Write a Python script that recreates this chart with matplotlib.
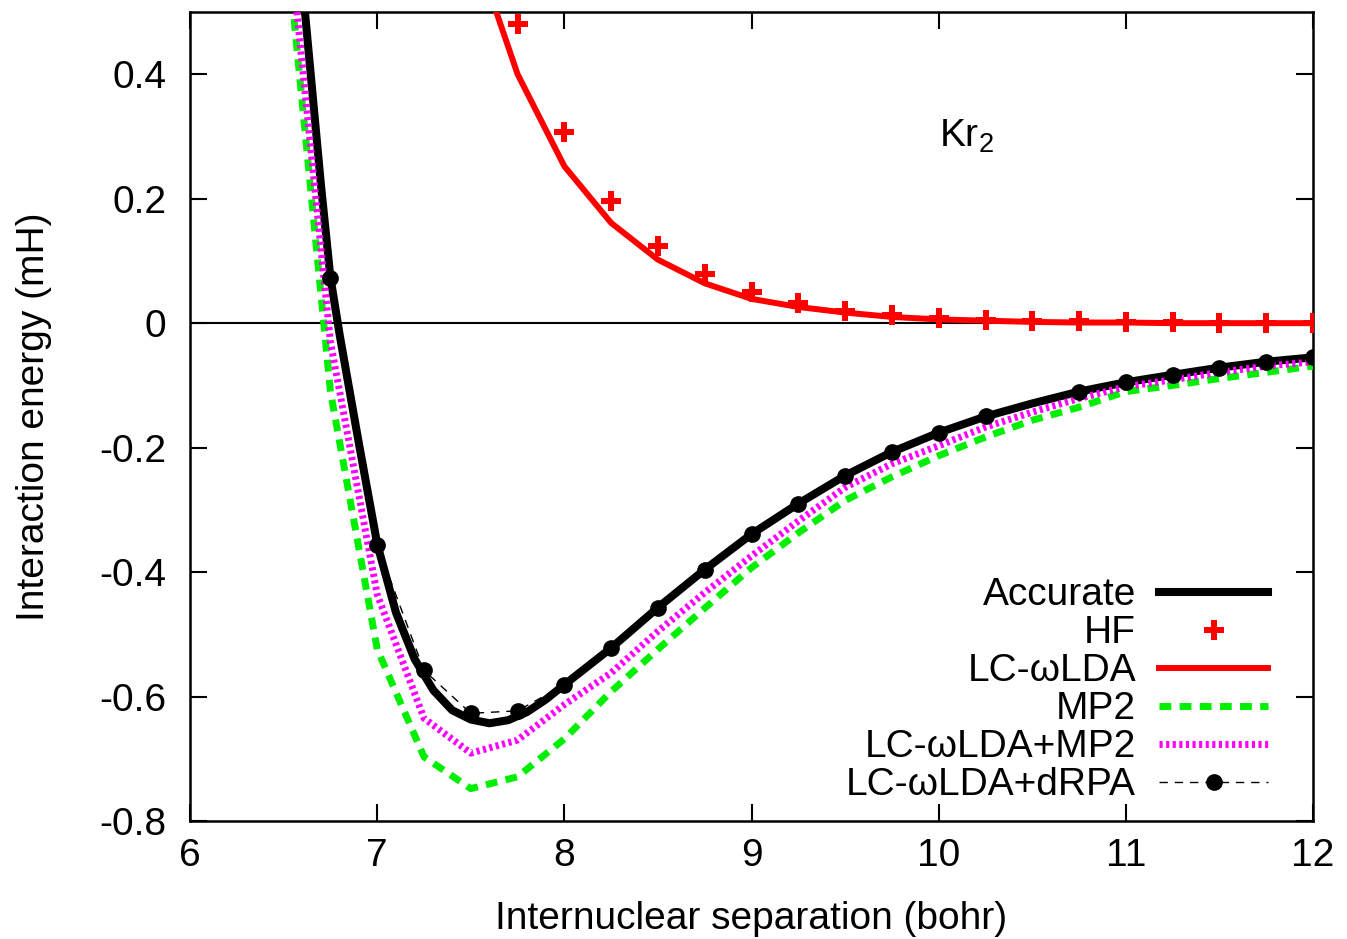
import matplotlib
matplotlib.use("Agg")
import matplotlib.pyplot as plt

plt.rcParams['font.family'] = ['Liberation Sans', 'DejaVu Sans']
plt.rcParams['font.size'] = 28

# Data (bohr, mH)
acc_x = [6.5, 6.6, 6.7, 6.75, 6.8, 6.9, 7.0, 7.1, 7.2, 7.3, 7.4, 7.5, 7.6, 7.7, 7.8,
         7.9, 8.0, 8.25, 8.5, 8.75, 9.0, 9.25, 9.5, 9.75, 10.0, 10.25, 10.5, 10.75,
         11.0, 11.25, 11.5, 11.75, 12.0]
acc_y = [0.95, 0.545, 0.22, 0.073, -0.02, -0.19, -0.355, -0.465, -0.54, -0.59, -0.622,
         -0.637, -0.643, -0.638, -0.625, -0.605, -0.581, -0.522, -0.457, -0.396, -0.339,
         -0.290, -0.245, -0.207, -0.176, -0.150, -0.129, -0.110, -0.095, -0.083,
         -0.0715, -0.062, -0.055]

grid_x = [6.5, 6.75, 7.0, 7.25, 7.5, 7.75, 8.0, 8.25, 8.5, 8.75, 9.0, 9.25, 9.5, 9.75,
          10.0, 10.25, 10.5, 10.75, 11.0, 11.25, 11.5, 11.75, 12.0]

hf_x = grid_x[4:]
hf_y = [0.76, 0.481, 0.307, 0.196, 0.124, 0.079, 0.0505, 0.032, 0.020, 0.013,
        0.0075, 0.005, 0.0035, 0.003, 0.002, 0.0015, 0.001, 0.001, 0.0005]

lda_x = grid_x[4:]
lda_y = [0.62, 0.40, 0.252, 0.161, 0.102, 0.064, 0.039, 0.026, 0.017, 0.010,
         0.006, 0.004, 0.002, 0.001, 0.001, 0.0, 0.0, 0.0, 0.0]

mp2_y = [0.66, -0.11, -0.524, -0.697, -0.748, -0.729, -0.668, -0.592, -0.524, -0.458,
         -0.393, -0.337, -0.285, -0.247, -0.213, -0.183, -0.156, -0.135, -0.110,
         -0.100, -0.089, -0.079, -0.069]

lda_mp2_y = [0.71, -0.03, -0.436, -0.635, -0.691, -0.670, -0.613, -0.562, -0.495,
             -0.433, -0.374, -0.318, -0.264, -0.226, -0.197, -0.167, -0.143, -0.121,
             -0.102, -0.091, -0.079, -0.069, -0.062]

drpa_x = [6.75, 7.0, 7.25, 7.5, 7.75, 8.0, 8.25, 8.5, 8.75, 9.0, 9.25, 9.5, 9.75, 10.0,
          10.25, 10.75, 11.0, 11.25, 11.5, 11.75, 12.0]
drpa_y = [0.073, -0.356, -0.558, -0.627, -0.623, -0.581, -0.522, -0.457, -0.396, -0.339,
          -0.290, -0.245, -0.207, -0.176, -0.150, -0.110, -0.095, -0.083, -0.0715,
          -0.062, -0.055]

fig = plt.figure(figsize=(13.47, 9.39), dpi=100)
ax = fig.add_axes([0.1411, 0.1257, 0.9748 - 0.1411, 0.9872 - 0.1257])

ax.axhline(0, color='black', lw=1.5, zorder=1)

ax.plot(acc_x, acc_y, color='black', lw=5.8, label='Accurate', zorder=2)
ax.plot(hf_x, hf_y, ls='none', marker='P', ms=14, color='#ff0000', mew=0,
        label='HF', zorder=3)
ax.plot(lda_x, lda_y, color='#ff0000', lw=4.3, label='LC-ωLDA', zorder=3)
ax.plot(grid_x, mp2_y, color='#00ee00', lw=5, dashes=(1.7, 1.2), label='MP2', zorder=4)
ax.plot(grid_x, lda_mp2_y, color='#ff00ff', lw=5, dashes=(0.45, 0.5),
        label='LC-ωLDA+MP2', zorder=5)
ax.plot(drpa_x, drpa_y, color='black', lw=1, dashes=(6, 5), marker='o', ms=11,
        label='LC-ωLDA+dRPA', zorder=6)

ax.set_xlim(6, 12)
ax.set_ylim(-0.8, 0.5)
ax.set_xticks([6, 7, 8, 9, 10, 11, 12])
ax.set_yticks([-0.8, -0.6, -0.4, -0.2, 0, 0.2, 0.4])
ax.set_yticklabels(['-0.8', '-0.6', '-0.4', '-0.2', '0', '0.2', '0.4'])
ax.tick_params(direction='in', length=12, width=1.5, top=True, right=True)
ax.tick_params(axis='x', pad=12)
ax.tick_params(axis='y', pad=17)
for s in ax.spines.values():
    s.set_linewidth(1.8)

ax.set_xlabel('Internuclear separation (bohr)', labelpad=20)
ax.set_ylabel('Interaction energy (mH)', labelpad=34)

ax.text(10.0, 0.283, 'Kr$_{\\mathregular{2}}$')

leg = ax.legend(loc='lower right', markerfirst=False, frameon=False,
                handlelength=2.8, handletextpad=0.6, labelspacing=0.05,
                borderpad=0, borderaxespad=0, bbox_to_anchor=(0.96, 0.022))

fig.savefig('out.png', dpi=100)
